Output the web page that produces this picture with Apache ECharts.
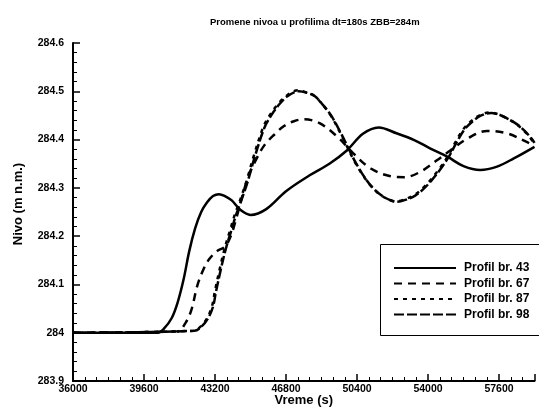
<!DOCTYPE html>
<html>
<head>
<meta charset="utf-8">
<title>Promene nivoa u profilima</title>
<script src="https://cdn.jsdelivr.net/npm/echarts@6/dist/echarts.min.js"></script>
<style>
  html, body { margin: 0; padding: 0; background: #fff; }
  #myChart { width: 539px; height: 409px; }
</style>
</head>
<body>
<div id="myChart"></div>
<script>
// vreme (s) i nivo (m n.m.) za svaki profil
var t43 = [36000, 40300, 40600, 41000, 41300, 41600, 41900, 42200, 42500, 42800, 43100, 43400, 43700, 44050, 44500, 45000, 45800, 46800, 48000, 49000, 49900, 50700, 51500, 52400, 53300, 54100, 55000, 55800, 56650, 57500, 58350, 59400];
var v43 = [284, 284, 284.008, 284.03, 284.062, 284.109, 284.17, 284.217, 284.25, 284.27, 284.283, 284.287, 284.283, 284.274, 284.254, 284.244, 284.256, 284.293, 284.326, 284.35, 284.378, 284.412, 284.425, 284.413, 284.399, 284.382, 284.364, 284.345, 284.337, 284.344, 284.361, 284.385];

var t67 = [36000, 41300, 41700, 42000, 42300, 42600, 42900, 43300, 43700, 44000, 44300, 44600, 44900, 45300, 45700, 46200, 46700, 47200, 47700, 48500, 49400, 50200, 51100, 52100, 52800, 53600, 54450, 55150, 56000, 57000, 58000, 59000, 59400];
var v67 = [284, 284.003, 284.02, 284.047, 284.097, 284.13, 284.152, 284.169, 284.178, 284.2, 284.24, 284.285, 284.325, 284.36, 284.388, 284.41, 284.428, 284.438, 284.442, 284.434, 284.406, 284.372, 284.34, 284.324, 284.322, 284.333, 284.357, 284.378, 284.402, 284.418, 284.413, 284.395, 284.386];

var t87 = [36000, 42100, 42450, 42800, 43050, 43200, 43450, 43700, 43950, 44200, 44450, 44800, 45150, 45650, 46000, 46350, 46800, 47400, 47800, 48200, 48600, 49050, 49500, 49900, 50300, 50750, 51150, 51600, 52000, 52350, 52800, 53300, 53700, 54100, 54550, 55000, 55400, 55800, 56250, 56650, 57150, 57600, 58000, 58450, 58850, 59200, 59400];
var v87 = [284, 284.004, 284.012, 284.03, 284.055, 284.087, 284.134, 284.176, 284.21, 284.244, 284.272, 284.314, 284.364, 284.426, 284.452, 284.471, 284.49, 284.502, 284.498, 284.492, 284.475, 284.451, 284.418, 284.385, 284.353, 284.323, 284.302, 284.285, 284.276, 284.272, 284.276, 284.285, 284.298, 284.315, 284.338, 284.365, 284.395, 284.422, 284.44, 284.451, 284.456, 284.452, 284.444, 284.433, 284.419, 284.403, 284.39];

var t98 = [36000, 42150, 42500, 42850, 43100, 43250, 43500, 43750, 44000, 44250, 44500, 44850, 45200, 45700, 46050, 46400, 46850, 47450, 47850, 48250, 48650, 49100, 49550, 49950, 50350, 50800, 51200, 51650, 52050, 52400, 52850, 53350, 53750, 54150, 54600, 55050, 55450, 55850, 56300, 56700, 57200, 57650, 58050, 58500, 58900, 59250, 59400];
var v98 = [284, 284.004, 284.012, 284.03, 284.054, 284.085, 284.132, 284.174, 284.208, 284.242, 284.27, 284.312, 284.362, 284.424, 284.45, 284.47, 284.489, 284.5, 284.497, 284.49, 284.473, 284.449, 284.416, 284.383, 284.351, 284.321, 284.3, 284.284, 284.275, 284.271, 284.275, 284.284, 284.297, 284.314, 284.337, 284.364, 284.394, 284.421, 284.439, 284.45, 284.455, 284.451, 284.443, 284.432, 284.418, 284.402, 284.393];

var profili = ["Profil br. 43", "Profil br. 67", "Profil br. 87", "Profil br. 98"];

function pairs(t, v) {
  return t.map(function (x, i) { return [x, v[i]]; });
}

function linija(name, t, v, dash) {
  return {
    name: name,
    type: "line",
    data: pairs(t, v),
    smooth: 0.35,
    symbol: "none",
    lineStyle: { color: "#000", width: 2.5, type: dash },
    itemStyle: { color: "#000" }
  };
}

var font = "Liberation Sans, Arial, sans-serif";
var myChart = echarts.init(document.getElementById("myChart"), null, { renderer: "canvas" });

myChart.setOption({
  animation: false,
  backgroundColor: "#fff",
  title: {
    text: "Promene nivoa u profilima dt=180s ZBB=284m",
    left: 205,
    top: 12,
    textStyle: { fontFamily: font, fontSize: 9.5, fontWeight: "bold", color: "#000" }
  },
  // bez automatskog skupljanja grida (echarts 6)
  grid: { left: 73, right: 4.5, top: 43, bottom: 28, containLabel: false, outerBoundsMode: "none" },
  // okvir legende
  graphic: [{
    type: "rect",
    shape: { x: 380.5, y: 244.5, width: 170, height: 91 },
    style: { fill: "#fff", stroke: "#000", lineWidth: 1 },
    z: 5
  }],
  legend: {
    data: profili,
    orient: "vertical",
    left: 393,
    top: 262,
    padding: 0,
    itemWidth: 62,
    itemHeight: 12,
    itemGap: 3.5,
    z: 10,
    itemStyle: { opacity: 0 },
    textStyle: { fontFamily: font, fontSize: 12, lineHeight: 12, fontWeight: "bold", color: "#000", padding: [0, 0, 0, 3] }
  },
  xAxis: {
    type: "value",
    min: 36000,
    max: 59400,
    interval: 3600,
    name: "Vreme (s)",
    nameLocation: "middle",
    nameGap: 13,
    nameMoveOverlap: false,
    nameTextStyle: { fontFamily: font, fontSize: 13, fontWeight: "bold", color: "#000" },
    axisLine: { lineStyle: { color: "#000", width: 2 } },
    axisTick: { inside: true, length: 7, lineStyle: { color: "#000", width: 1.5 } },
    minorTick: { show: true, splitNumber: 6, length: 4, lineStyle: { color: "#000", width: 1 } },
    splitLine: { show: false },
    axisLabel: {
      showMaxLabel: false,
      margin: 3,
      fontFamily: font, fontSize: 10.5, fontWeight: "bold", color: "#000",
      formatter: function (v) { return String(v); }
    }
  },
  yAxis: {
    type: "value",
    min: 283.9,
    max: 284.6,
    interval: 0.1,
    name: "Nivo (m n.m.)",
    nameLocation: "middle",
    nameGap: 48,
    nameMoveOverlap: false,
    nameTextStyle: { fontFamily: font, fontSize: 13, fontWeight: "bold", color: "#000", padding: [0, 0, 0, 16] },
    axisLine: { show: true, lineStyle: { color: "#000", width: 2 } },
    axisTick: { show: true, inside: true, length: 7, lineStyle: { color: "#000", width: 1.5 } },
    minorTick: { show: true, splitNumber: 5, length: 4, lineStyle: { color: "#000", width: 1 } },
    splitLine: { show: false },
    axisLabel: {
      margin: 9,
      fontFamily: font, fontSize: 10.5, fontWeight: "bold", color: "#000",
      formatter: function (v) { return String(Math.round(v * 10) / 10); }
    }
  },
  series: [
    linija(profili[0], t43, v43, "solid"),
    linija(profili[1], t67, v67, [8, 6]),
    linija(profili[2], t87, v87, [4, 5]),
    linija(profili[3], t98, v98, [10, 3])
  ]
});
</script>
</body>
</html>
